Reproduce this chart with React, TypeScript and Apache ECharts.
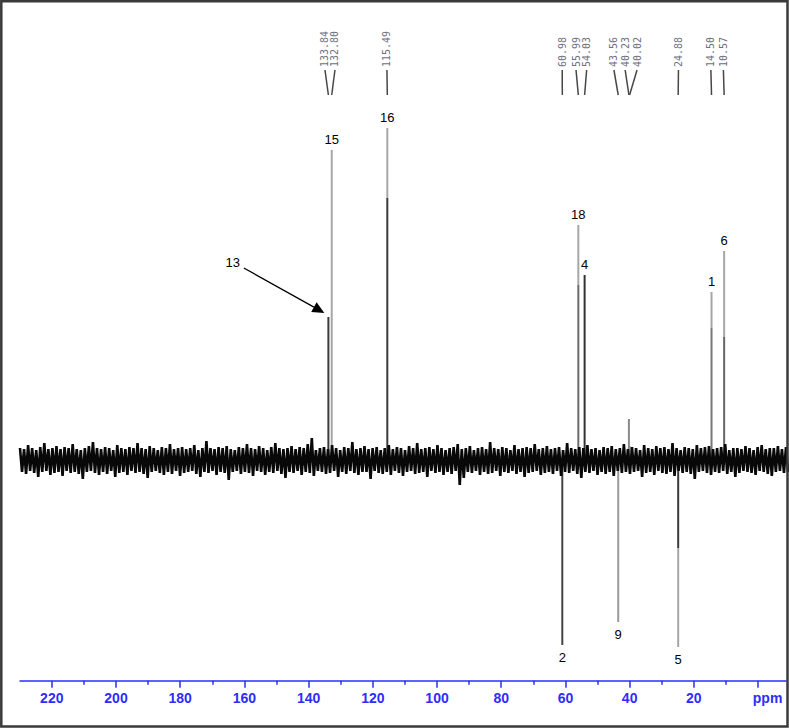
import React, { useEffect, useRef } from "react";
import * as echarts from "echarts";

// ---------------- data ----------------
const peakPpm = [133.84, 132.8, 115.49, 60.98, 55.99, 54.03, 43.56, 40.23, 40.02, 24.88, 14.5, 10.57];
const peakIntensity = [143, 310, 332, -185, 235, 185, -162, 41, 14, -187, 168, 209];
const peakAssignment = ["13", "15", "16", "2", "18", "4", "9", "", "", "5", "1", "6"];
// ppm position of each rotated shift label at the top (spread apart where peaks crowd)
const shiftLabelPpm = [134.9, 131.8, 115.6, 61.0, 56.7, 53.4, 44.9, 41.4, 37.7, 24.8, 14.7, 10.8];
// callout for assignment "13" (ppm, intensity of its text)
const calloutPpm = [163.6, null, null, null, null, null, null, null, null, null, null, null];
const calloutIntensity = [198, null, null, null, null, null, null, null, null, null, null, null];

const tickValues = [0, 20, 40, 60, 80, 100, 120, 140, 160, 180, 200, 220];
const minorTickValues = [10, 30, 50, 70, 90, 110, 130, 150, 170, 190, 210];

// baseline noise trace: upper and lower excursions, from 229.9 ppm to -8.7 ppm
const noiseHi = [
  12, 11, 15, 12, 10, 13, 17, 11, 12, 14,
  11, 13, 12, 16, 11, 10, 12, 14, 18, 12,
  11, 13, 12, 10, 15, 12, 11, 13, 12, 17,
  12, 11, 14, 12, 10, 13, 12, 16, 11, 12,
  13, 11, 12, 15, 10, 12, 19, 12, 11, 13,
  12, 14, 11, 10, 13, 12, 16, 12, 11, 14,
  12, 10, 13, 17, 12, 11, 12, 14, 11, 13,
  12, 16, 22, 10, 12, 13, 11, 15, 12, 10,
  13, 12, 18, 11, 12, 14, 11, 12, 13, 10,
  12, 15, 11, 13, 12, 10, 14, 12, 17, 11,
  12, 13, 11, 15, 12, 10, 12, 13, 16, 11,
  12, 14, 10, 12, 13, 11, 18, 12, 11, 13,
  12, 10, 15, 11, 12, 13, 12, 16, 11, 12,
  14, 11, 12, 13, 10, 17, 12, 11, 13, 12,
  15, 11, 12, 10, 13, 12, 14, 11, 12, 16,
  11, 13, 12, 10, 15, 12, 11, 14, 12, 13,
  11, 17, 12, 10, 13, 12, 11, 15, 12, 13,
  14, 11, 12, 13, 16, 10, 12, 12, 11, 14,
  12, 10, 13, 15, 11, 12, 12, 14, 11, 13,
];
const noiseLo = [
  -12, -14, -11, -13, -17, -12, -11, -15, -13, -12,
  -16, -11, -13, -12, -14, -19, -12, -11, -13, -15,
  -12, -14, -11, -17, -13, -12, -15, -11, -13, -12,
  -14, -18, -12, -11, -13, -15, -12, -14, -11, -16,
  -13, -12, -11, -14, -17, -12, -13, -11, -15, -12,
  -13, -20, -12, -11, -14, -12, -13, -16, -11, -12,
  -15, -12, -13, -11, -14, -18, -12, -13, -11, -15,
  -12, -13, -16, -11, -12, -14, -13, -11, -17, -12,
  -14, -11, -13, -15, -12, -12, -19, -11, -13, -14,
  -12, -15, -11, -13, -16, -12, -11, -14, -13, -12,
  -17, -11, -13, -12, -15, -12, -14, -11, -25, -18,
  -12, -13, -11, -15, -12, -14, -13, -11, -16, -12,
  -13, -11, -14, -12, -17, -13, -12, -11, -15, -13,
  -12, -14, -11, -16, -12, -13, -11, -14, -18, -12,
  -13, -11, -15, -12, -14, -12, -16, -11, -13, -12,
  -14, -12, -11, -17, -13, -12, -15, -11, -13, -14,
  -12, -16, -11, -13, -12, -14, -19, -12, -11, -13,
  -15, -12, -13, -11, -14, -12, -17, -13, -11, -12,
  -13, -15, -11, -12, -14, -16, -12, -11, -13, -12,
];
const NOISE_START = 229.9;
const NOISE_END = -8.7;

// ---------------- styles ----------------
const LIGHT = "#a6a6a6";
const DARK = "#3a3a3a";
const peakTipColor = [DARK, LIGHT, LIGHT, "#444444", LIGHT, "#333333", "#9a9a9a", "#8a8a8a", "#8a8a8a", LIGHT, LIGHT, LIGHT];
const peakBaseColor = [DARK, LIGHT, DARK, "#444444", "#6a6a6a", "#333333", "#9a9a9a", "#8a8a8a", "#8a8a8a", DARK, "#777777", "#666666"];
const peakSplit: (number | null)[] = [null, null, 262, null, 175, null, null, null, null, -88, 132, 123];
const AXIS_BLUE = "#2d2dff";

export default function App() {
  const ref = useRef<HTMLDivElement>(null);

  useEffect(() => {
    if (!ref.current) return;
    const chart = echarts.init(ref.current, undefined, { renderer: "svg" });

    const n = Math.min(noiseHi.length, noiseLo.length);
    const step = (NOISE_START - NOISE_END) / (n - 1);

    const option: any = {
      animation: false,
      backgroundColor: "#ffffff",
      grid: { left: 20, right: 3, top: 0, bottom: 47.3, containLabel: false },
      xAxis: [
        {
          type: "value",
          inverse: true,
          min: NOISE_END,
          max: NOISE_START,
          axisLine: { show: true, onZero: false, lineStyle: { color: AXIS_BLUE, width: 1.5 } },
          axisTick: { show: true, customValues: tickValues, length: 7, lineStyle: { color: AXIS_BLUE, width: 1.5 } },
          axisLabel: {
            show: true,
            customValues: tickValues,
            margin: 10,
            color: AXIS_BLUE,
            fontSize: 14,
            fontWeight: "bold",
            fontFamily: "Liberation Sans, Arial, sans-serif",
            formatter: (v: number) => (v === 0 ? "{p|ppm}" : String(v)),
            rich: {
              p: {
                color: AXIS_BLUE,
                fontSize: 14,
                fontWeight: "bold",
                fontFamily: "Liberation Sans, Arial, sans-serif",
                padding: [0, 0, 0, 19],
              },
            },
          },
          splitLine: { show: false },
        },
        {
          type: "value",
          inverse: true,
          min: NOISE_END,
          max: NOISE_START,
          position: "bottom",
          axisLine: { show: false, onZero: false },
          axisTick: { show: true, customValues: minorTickValues, length: 4, lineStyle: { color: AXIS_BLUE, width: 1.5 } },
          axisLabel: { show: false },
          splitLine: { show: false },
        },
      ],
      yAxis: { type: "value", min: -220.7, max: 460, show: false, splitLine: { show: false } },
      series: [
        {
          type: "custom",
          name: "peaks",
          xAxisIndex: 0,
          silent: true,
          encode: { x: 0, y: 1 },
          data: peakPpm.map((p, i) => [p, peakIntensity[i], i]),
          renderItem: (_p: any, api: any) => {
            const ppm = api.value(0);
            const h = api.value(1);
            const i = api.value(2);
            const base = api.coord([ppm, 0]);
            const tip = api.coord([ppm, h]);
            const split = peakSplit[i];
            const children: any[] = [];
            if (split == null) {
              children.push({
                type: "line",
                shape: { x1: base[0], y1: base[1], x2: tip[0], y2: tip[1] },
                style: { stroke: peakTipColor[i], lineWidth: 2 },
              });
            } else {
              const mid = api.coord([ppm, split]);
              children.push({
                type: "line",
                shape: { x1: base[0], y1: base[1], x2: mid[0], y2: mid[1] },
                style: { stroke: peakBaseColor[i], lineWidth: 2 },
              });
              children.push({
                type: "line",
                shape: { x1: mid[0], y1: mid[1], x2: tip[0], y2: tip[1] },
                style: { stroke: peakTipColor[i], lineWidth: 2 },
              });
            }
            return { type: "group", children };
          },
        },
        {
          type: "custom",
          name: "noise",
          xAxisIndex: 0,
          data: [[0, 0]],
          silent: true,
          renderItem: (_p: any, api: any) => {
            const pts: number[][] = [];
            for (let i = 0; i < n; i++) {
              const ppm = NOISE_START - i * step;
              pts.push(api.coord([ppm, noiseHi[i]]));
              pts.push(api.coord([ppm - step / 2, noiseLo[i]]));
            }
            return {
              type: "polyline",
              shape: { points: pts },
              style: { fill: null, stroke: "#080808", lineWidth: 2.6, lineJoin: "bevel" },
            };
          },
        },
        {
          type: "custom",
          name: "shiftLabels",
          xAxisIndex: 0,
          silent: true,
          encode: { x: 0, y: 1 },
          data: peakPpm.map((p, i) => [p, 0, i]),
          renderItem: (_p: any, api: any) => {
            const ppm = api.value(0);
            const i = api.value(2);
            const px = api.coord([ppm, 0])[0];
            const lx = api.coord([shiftLabelPpm[i], 0])[0];
            return {
              type: "group",
              children: [
                {
                  type: "line",
                  shape: { x1: lx, y1: 70, x2: px, y2: 95 },
                  style: { stroke: "#474747", lineWidth: 1.5 },
                },
                {
                  type: "text",
                  x: lx,
                  y: 67,
                  rotation: Math.PI / 2,
                  style: {
                    text: peakPpm[i].toFixed(2),
                    fontSize: 10,
                    fontFamily: "DejaVu Sans Mono, monospace",
                    fill: "#6e6e80",
                    align: "left",
                    verticalAlign: "middle",
                  },
                },
              ],
            };
          },
        },
        {
          type: "custom",
          name: "assignments",
          xAxisIndex: 0,
          silent: true,
          encode: { x: 0, y: 1 },
          data: peakPpm.map((p, i) => [p, peakIntensity[i], i]),
          renderItem: (_p: any, api: any) => {
            const ppm = api.value(0);
            const h = api.value(1);
            const i = api.value(2);
            const txt = peakAssignment[i];
            if (!txt) return { type: "group", children: [] };
            const tip = api.coord([ppm, h]);
            const font = { fontSize: 13, fontFamily: "Liberation Sans, Arial, sans-serif", fill: "#000" };
            const cp = calloutPpm[i];
            const ci = calloutIntensity[i];
            if (cp != null && ci != null) {
              const t = api.coord([cp, ci]);
              const sx = t[0] + 11;
              const sy = t[1] + 6;
              const ex = tip[0] - 4;
              const ey = tip[1] - 4;
              const dx = ex - sx;
              const dy = ey - sy;
              const len = Math.sqrt(dx * dx + dy * dy);
              const ux = dx / len;
              const uy = dy / len;
              const hl = 12;
              const hw = 5.5;
              const bx = ex - ux * hl;
              const by = ey - uy * hl;
              return {
                type: "group",
                children: [
                  { type: "text", x: t[0], y: t[1], style: { ...font, text: txt, align: "center", verticalAlign: "middle" } },
                  { type: "line", shape: { x1: sx, y1: sy, x2: bx, y2: by }, style: { stroke: "#000", lineWidth: 1.3 } },
                  {
                    type: "polygon",
                    shape: { points: [[ex, ey], [bx - uy * hw, by + ux * hw], [bx + uy * hw, by - ux * hw]] },
                    style: { fill: "#000" },
                  },
                ],
              };
            }
            const y = h >= 0 ? tip[1] - 11 : tip[1] + 12;
            return {
              type: "text",
              x: tip[0],
              y,
              style: { ...font, text: txt, align: "center", verticalAlign: "middle" },
            };
          },
        },
      ],
      graphic: [
        {
          type: "rect",
          shape: { x: 1.3, y: 1.2, width: 786.2, height: 725.4 },
          style: { fill: "none", stroke: "#3a3a3a", lineWidth: 2.5 },
          silent: true,
          z: 100,
        },
      ],
    };

    chart.setOption(option);
    return () => chart.dispose();
  }, []);

  return (
    <div
      ref={ref}
      style={{ position: "fixed", left: 0, top: 0, width: 789, height: 728, background: "#fff" }}
    />
  );
}
